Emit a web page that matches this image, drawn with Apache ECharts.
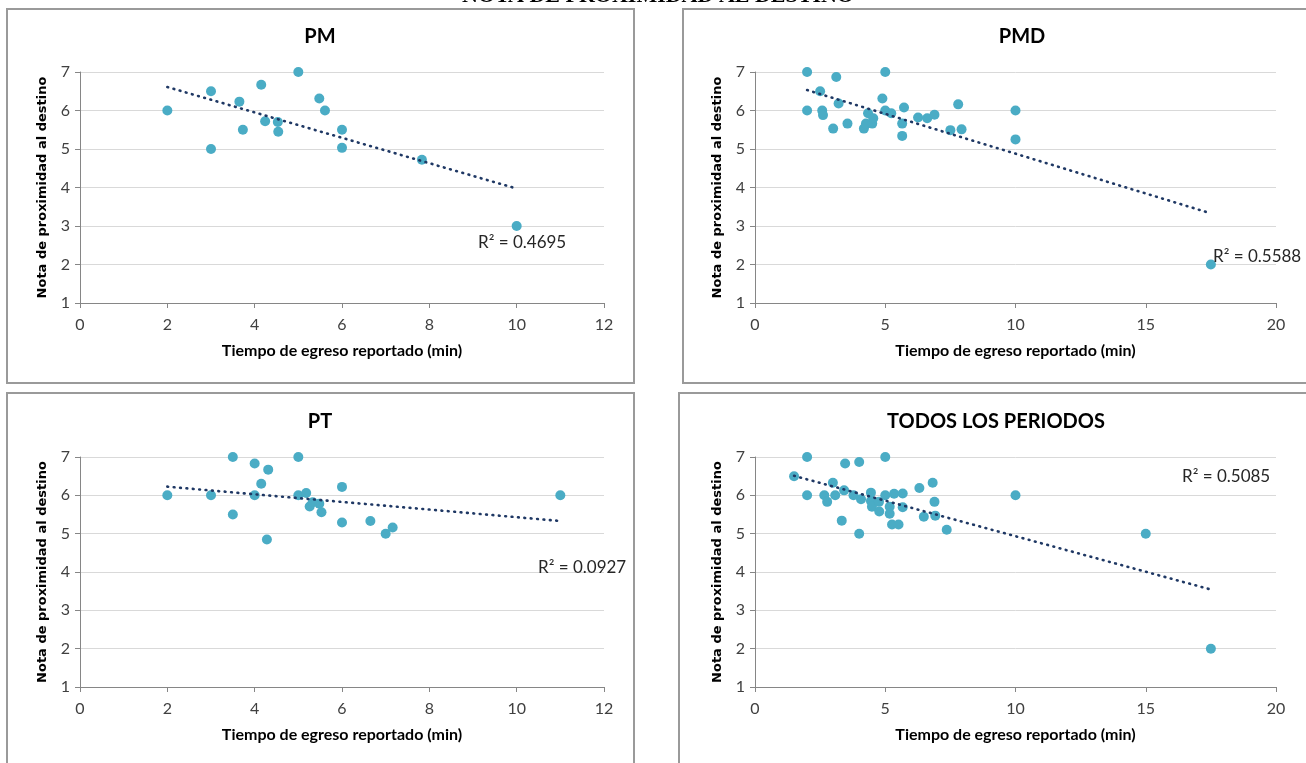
<!DOCTYPE html>
<html>
<head>
<meta charset="utf-8">
<script src="https://cdn.jsdelivr.net/npm/echarts@6/dist/echarts.min.js"></script>
<style>
    html, body { margin: 0; padding: 0; background: #fff; }
    #chart { width: 1306px; height: 763px; }
</style>
</head>
<body>
<div id="chart"></div>
<script>
// 数据
var titulos = ['PM', 'PMD', 'PT', 'TODOS LOS PERIODOS']
var r2Labels = ['R² = 0.4695', 'R² = 0.5588', 'R² = 0.0927', 'R² = 0.5085']
var xMax = [12, 20, 12, 20]
var xInterval = [2, 5, 2, 5]

var pmTiempo = [2, 3, 3, 3.65, 3.73, 4.15, 4.24, 4.53, 4.54, 5, 5.48, 5.61, 6, 6, 7.83, 10]
var pmNota = [6, 6.5, 5, 6.23, 5.5, 6.67, 5.72, 5.7, 5.45, 7, 6.31, 6, 5.5, 5.03, 4.72, 3]

var pmdTiempo = [2, 2, 3.12, 2.5, 2.58, 2.61, 3, 3.21, 3.55, 4.18, 4.26, 4.34, 4.5, 4.54, 4.89,
    5, 5, 5.23, 5.65, 5.65, 5.72, 6.26, 6.61, 6.89, 7.5, 7.8, 7.93, 10, 10, 17.5]
var pmdNota = [7, 6, 6.87, 6.5, 6, 5.88, 5.53, 6.18, 5.66, 5.53, 5.66, 5.93, 5.66, 5.8, 6.31,
    7, 6, 5.93, 5.66, 5.34, 6.08, 5.82, 5.8, 5.89, 5.49, 6.16, 5.51, 6, 5.25, 2]

var ptTiempo = [2, 3, 3.5, 3.5, 4, 4, 4.15, 4.31, 4.28, 5, 5, 5.18, 5.26, 5.33, 5.48, 5.53, 6, 6, 6.65, 7, 7.16, 11]
var ptNota = [6, 6, 7, 5.5, 6.83, 6, 6.3, 6.67, 4.85, 7, 6, 6.06, 5.71, 5.82, 5.78, 5.56, 6.22, 5.29, 5.33, 5, 5.16, 6]

var todosTiempo = [1.5, 2, 2, 2.66, 2.77, 2.99, 3.08, 3.33, 3.42, 3.46, 3.78, 4, 4, 4.07, 4.45, 4.45, 4.49,
    4.76, 4.77, 5, 5, 5.17, 5.17, 5.26, 5.34, 5.51, 5.67, 5.67, 6.31, 6.48, 6.82, 6.89, 6.92, 7.36, 10, 15, 17.5]
var todosNota = [6.5, 7, 6, 6, 5.83, 6.33, 6, 5.34, 6.13, 6.83, 6, 6.87, 5, 5.9, 6.07, 5.85, 5.7,
    5.83, 5.58, 7, 6, 5.7, 5.52, 5.24, 6.04, 5.24, 6.05, 5.69, 6.19, 5.44, 6.33, 5.83, 5.47, 5.1, 6, 5, 2]

var tiempos = [pmTiempo, pmdTiempo, ptTiempo, todosTiempo]
var notas = [pmNota, pmdNota, ptNota, todosNota]

// 布局
var grids = [
    { left: 80, top: 72, width: 524, height: 231 },
    { left: 755, top: 72, width: 521, height: 231 },
    { left: 80, top: 457, width: 524, height: 230 },
    { left: 755, top: 457, width: 521, height: 230 }
]
var tituloPos = [[320, 37], [1022, 37], [320, 422], [996, 422]]
var r2Pos = [[478, 243], [1213, 257], [538, 568], [1182, 477]]
var marcos = [
    { x: 7, y: 9, width: 627, height: 374 },
    { x: 683, y: 9, width: 640, height: 374 },
    { x: 7, y: 393, width: 627, height: 400 },
    { x: 679, y: 393, width: 640, height: 400 }
]

var puntoColor = '#4AACC5'
var lineaColor = '#1F3864'
var ejeColor = '#868686'

// 线性回归
function tendencia(xs, ys) {
    var n = xs.length, mx = 0, my = 0
    for (var i = 0; i < n; i++) { mx += xs[i]; my += ys[i] }
    mx /= n; my /= n
    var sxy = 0, sxx = 0
    for (var i = 0; i < n; i++) {
        sxy += (xs[i] - mx) * (ys[i] - my)
        sxx += (xs[i] - mx) * (xs[i] - mx)
    }
    var b = sxy / sxx, a = my - b * mx
    var x0 = Math.min.apply(null, xs), x1 = Math.max.apply(null, xs)
    return [[x0, a + b * x0], [x1, a + b * x1]]
}

function chart_init() {
    var xAxis = [], yAxis = [], series = [], graphic = []

    marcos.forEach(function (m) {
        graphic.push({
            type: 'rect', shape: m, silent: true,
            style: { fill: 'none', stroke: '#9a9a9a', lineWidth: 2 }
        })
    })
    graphic.push({
        type: 'text', x: 658, y: 7,
        style: {
            text: 'NOTA DE PROXIMIDAD AL DESTINO', align: 'center', verticalAlign: 'bottom',
            font: 'bold 22px "Liberation Serif"', fill: '#000'
        }
    })

    for (var k = 0; k < 4; k++) {
        xAxis.push({
            gridIndex: k, type: 'value', min: 0, max: xMax[k], interval: xInterval[k],
            name: 'Tiempo de egreso reportado (min)', nameLocation: 'middle', nameGap: 40,
            nameTextStyle: { fontFamily: 'Lato', fontWeight: 'bold', fontSize: 16, color: '#000' },
            axisLine: { lineStyle: { color: ejeColor, width: 1 } },
            axisTick: { show: true, length: 5, lineStyle: { color: ejeColor } },
            axisLabel: { margin: 14, fontFamily: 'Lato', fontSize: 16, color: '#404040' },
            splitLine: { show: false }
        })
        yAxis.push({
            gridIndex: k, type: 'value', min: 1, max: 7, interval: 1,
            name: 'Nota de proximidad al destino', nameLocation: 'middle', nameGap: 31,
            nameTextStyle: { fontFamily: 'DejaVu Sans', fontWeight: 'bold', fontSize: 13, color: '#000' },
            axisLine: { show: true, lineStyle: { color: ejeColor, width: 1 } },
            axisTick: { show: true, length: 5, lineStyle: { color: ejeColor } },
            axisLabel: { margin: 10, fontFamily: 'Lato', fontSize: 16, color: '#404040' },
            splitLine: { show: true, lineStyle: { color: '#D9D9D9', width: 1 } }
        })
        series.push({
            type: 'scatter', xAxisIndex: k, yAxisIndex: k, symbolSize: 10, z: 2,
            itemStyle: { color: puntoColor, opacity: 1 },
            data: tiempos[k].map(function (x, i) { return [x, notas[k][i]] })
        })
        series.push({
            type: 'line', xAxisIndex: k, yAxisIndex: k, symbol: 'none', z: 3,
            silent: true,
            lineStyle: { color: lineaColor, width: 2.6, type: [0.8, 5.6], cap: 'round' },
            data: tendencia(tiempos[k], notas[k])
        })
        graphic.push({
            type: 'text', x: tituloPos[k][0], y: tituloPos[k][1],
            style: {
                text: titulos[k], align: 'center', verticalAlign: 'middle',
                font: 'bold 20px Lato', fill: '#000'
            }
        })
        graphic.push({
            type: 'text', x: r2Pos[k][0], y: r2Pos[k][1], z: 10,
            style: {
                text: r2Labels[k], align: 'left', verticalAlign: 'middle',
                font: '17px Lato', fill: '#262626'
            }
        })
    }

    var option = {
        backgroundColor: '#fff',
        animation: false,
        grid: grids,
        xAxis: xAxis,
        yAxis: yAxis,
        series: series,
        graphic: graphic
    }
    var chart = echarts.init(document.getElementById('chart'))
    chart.setOption(option)
    window.addEventListener('resize', function () { chart.resize() })
}

chart_init()
</script>
</body>
</html>
